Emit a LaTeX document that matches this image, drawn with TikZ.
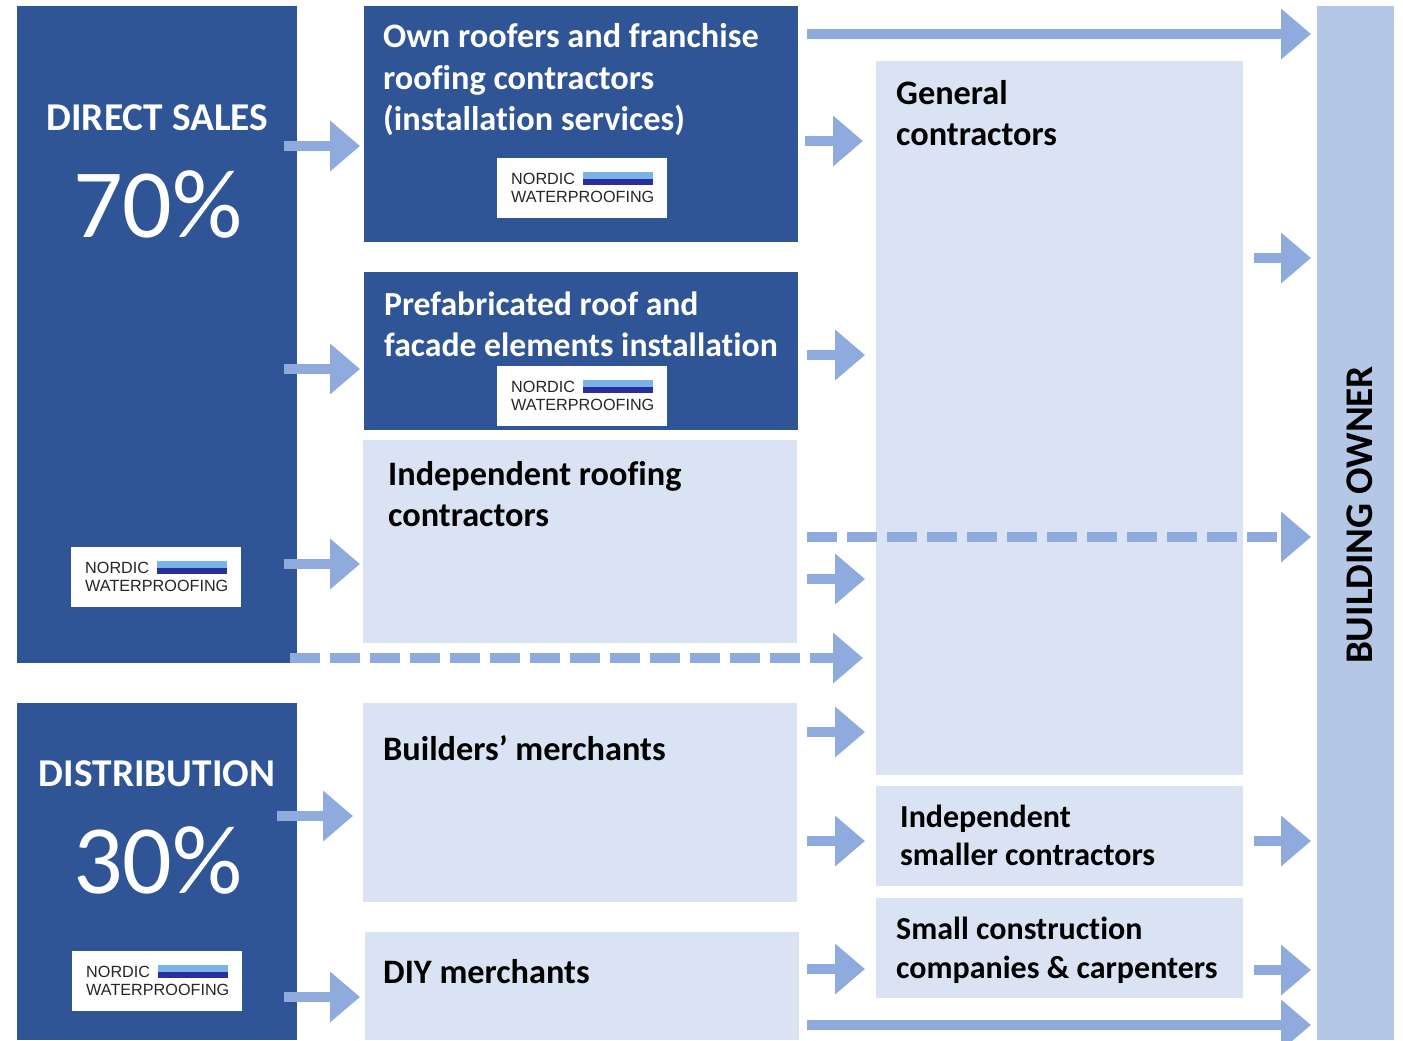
\documentclass[tikz,border=0pt]{standalone}
\usepackage{fontspec}
\setmainfont[Ligatures=CommonOff]{Carlito}
\newfontfamily\logofont{Liberation Sans}
\usetikzlibrary{arrows.meta}
\definecolor{darkblue}{HTML}{2F5597}
\definecolor{paleblue}{HTML}{DAE3F3}
\definecolor{midblue}{HTML}{B4C7E7}
\definecolor{flowblue}{HTML}{8FAADC}
\definecolor{logolight}{HTML}{79B4E8}
\definecolor{logodark}{HTML}{2A2E9E}
\tikzset{
  darkbox/.style={fill=darkblue,inner sep=0,outer sep=0,anchor=north west},
  palebox/.style={fill=paleblue,inner sep=0,outer sep=0,anchor=north west},
  boxtext/.style={anchor=north west,inner sep=0,align=left,font=\fontsize{34.3}{41.5}\selectfont\bfseries},
  whitetext/.style={boxtext,text=white},
  headtext/.style={inner sep=0,text=white,font=\fontsize{39.4}{40}\selectfont\bfseries},
  sharetext/.style={inner sep=0,text=white,font=\fontsize{98}{98}\selectfont},
  flow/.style={draw=flowblue,line width=10pt,-{Triangle[length=30pt,width=49pt,fill=flowblue]}},
  dashflow/.style={flow,dash pattern=on 30pt off 10pt},
  logotext/.style={anchor=base west,inner sep=0,text=black!85,font=\fontsize{16.2}{16}\selectfont\logofont},
  nwlogo/.pic={
    \node[fill=white,inner sep=0,anchor=north west,minimum width=170pt,minimum height=60pt] (-box) at (0,0) {};
    \node[logotext] (-nordic) at (14,26) {NORDIC};
    \node[logotext] (-water) at (14,44) {WATERPROOFING};
    \fill[logolight] (86,14) rectangle (156,20.5);
    \fill[logodark] (86,20.5) rectangle (156,26.5);
  }
}
\begin{document}
\begin{tikzpicture}[x=1pt,y=-1pt]
\useasboundingbox (0,0) rectangle (1403,1041);
% boxes
\node[darkbox,minimum width=280pt,minimum height=657pt] (directsales) at (17,6) {};
\node[darkbox,minimum width=280pt,minimum height=337pt] (distribution) at (17,703) {};
\node[darkbox,minimum width=434pt,minimum height=236pt] (ownroofers) at (364,6) {};
\node[darkbox,minimum width=434pt,minimum height=158pt] (prefab) at (364,272) {};
\node[palebox,minimum width=434pt,minimum height=203pt] (indroofing) at (363,440) {};
\node[palebox,minimum width=434pt,minimum height=199pt] (builders) at (363,703) {};
\node[palebox,minimum width=434pt,minimum height=108pt] (diy) at (365,932) {};
\node[palebox,minimum width=367pt,minimum height=714pt] (general) at (876,61) {};
\node[palebox,minimum width=367pt,minimum height=100pt] (smaller) at (876,786) {};
\node[palebox,minimum width=367pt,minimum height=100pt] (smallco) at (876,898) {};
\node[fill=midblue,inner sep=0,outer sep=0,anchor=north west,minimum width=77pt,minimum height=1034pt] (owner) at (1317,6) {};
% labels
\node[headtext] (directlabel) at (157.5,118) {DIRECT SALES};
\node[sharetext] (directshare) at (158,204) {70\%};
\node[headtext] (distlabel) at (157,774) {DISTRIBUTION};
\node[sharetext] (distshare) at (158,860) {30\%};
\node[whitetext] (ownlabel) at (383,23.5) {Own roofers and franchise\\roofing contractors\\(installation services)};
\node[whitetext,font=\fontsize{33.7}{40.5}\selectfont\bfseries] (prefablabel) at (384,292) {Prefabricated roof and\\facade elements installation};
\node[boxtext] (indlabel) at (388,461) {Independent roofing\\contractors};
\node[boxtext] (builderslabel) at (383,735) {Builders’ merchants};
\node[boxtext] (diylabel) at (383,959) {DIY merchants};
\node[boxtext] (generallabel) at (896,80) {General\\contractors};
\node[boxtext,font=\fontsize{32}{38}\selectfont\bfseries] (smallerlabel) at (900,805) {Independent\\smaller contractors};
\node[boxtext,font=\fontsize{32}{39}\selectfont\bfseries] (smallcolabel) at (896,917) {Small construction\\companies \& carpenters};
\node[rotate=90,inner sep=0,font=\fontsize{39.2}{40}\selectfont\bfseries] (ownerlabel) at (1360,515) {BUILDING OWNER};
% logos
\pic (logoa) at (497,158) {nwlogo};
\pic (logob) at (497,366) {nwlogo};
\pic (logoc) at (71,547) {nwlogo};
\pic (logod) at (72,951) {nwlogo};
% arrows
\coordinate (a1) at (807,34); \coordinate (b1) at (1311,34);
\coordinate (a2) at (805,141); \coordinate (b2) at (863,141);
\coordinate (a3) at (284,146); \coordinate (b3) at (360,146);
\coordinate (a4) at (284,369); \coordinate (b4) at (360,369);
\coordinate (a5) at (807,355); \coordinate (b5) at (865,355);
\coordinate (a6) at (1254,258); \coordinate (b6) at (1311,258);
\coordinate (a7) at (284,564); \coordinate (b7) at (360,564);
\coordinate (a8) at (807,537); \coordinate (b8) at (1311,537);
\coordinate (a9) at (807,579); \coordinate (b9) at (865,579);
\coordinate (a10) at (290,658); \coordinate (b10) at (863,658);
\coordinate (a11) at (807,732); \coordinate (b11) at (865,732);
\coordinate (a12) at (277,816); \coordinate (b12) at (353,816);
\coordinate (a13) at (807,841); \coordinate (b13) at (865,841);
\coordinate (a14) at (1254,841); \coordinate (b14) at (1311,841);
\coordinate (a15) at (807,969); \coordinate (b15) at (865,969);
\coordinate (a16) at (1254,970); \coordinate (b16) at (1311,970);
\coordinate (a17) at (284,997); \coordinate (b17) at (360,997);
\coordinate (a18) at (807,1025); \coordinate (b18) at (1311,1025);
\draw[flow] (a1) -- (b1);
\draw[flow] (a2) -- (b2);
\draw[flow] (a3) -- (b3);
\draw[flow] (a4) -- (b4);
\draw[flow] (a5) -- (b5);
\draw[flow] (a6) -- (b6);
\draw[flow] (a7) -- (b7);
\draw[dashflow] (a8) -- (b8);
\draw[flow] (a9) -- (b9);
\draw[dashflow] (a10) -- (b10);
\draw[flow] (a11) -- (b11);
\draw[flow] (a12) -- (b12);
\draw[flow] (a13) -- (b13);
\draw[flow] (a14) -- (b14);
\draw[flow] (a15) -- (b15);
\draw[flow] (a16) -- (b16);
\draw[flow] (a17) -- (b17);
\draw[flow] (a18) -- (b18);
\end{tikzpicture}
\end{document}
